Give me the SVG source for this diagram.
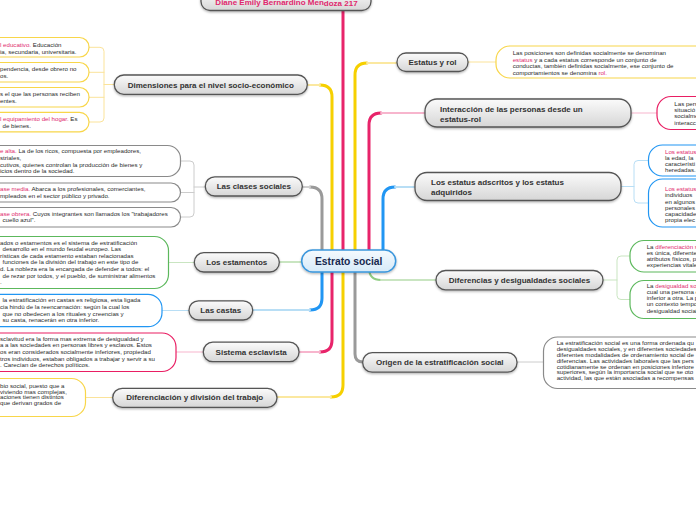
<svg xmlns="http://www.w3.org/2000/svg" width="696" height="520" viewBox="0 0 696 520">
<defs>
<linearGradient id="ng" x1="0" y1="0" x2="0" y2="1"><stop offset="0" stop-color="#fbfbfb"/><stop offset="1" stop-color="#d6d6d6"/></linearGradient>
<linearGradient id="cg" x1="0" y1="0" x2="0" y2="1"><stop offset="0" stop-color="#f5fafe"/><stop offset="1" stop-color="#d6eaf8"/></linearGradient>
<filter id="sh" x="-10%" y="-30%" width="120%" height="170%"><feDropShadow dx="0" dy="1.2" stdDeviation="0.8" flood-color="#000" flood-opacity="0.3"/></filter>
</defs>
<style>
.n rect{fill:url(#ng);stroke:#555;stroke-width:1.3;filter:url(#sh)}
.nt{font-family:"Liberation Sans",Arial,sans-serif;font-weight:bold;font-size:8px;fill:#333;text-anchor:middle}
.st{font-family:"Liberation Sans",Arial,sans-serif;font-size:6.15px;fill:#2b2b2b}
.pk{fill:#e0286e}
.b{fill:#fff;stroke-width:1.2}
.by{stroke:#f8d64a}.bg{stroke:#8a8a8a}.bn{stroke:#5cb85c}.bb{stroke:#2196f3}.bp{stroke:#e91e63}
.c{fill:none;stroke-linecap:round}
.s{stroke-width:3}.l{stroke-width:2}.t{stroke-width:1}
</style>
<rect width="696" height="520" fill="#fff"/>
<g id="connectors">
<path class="c s" stroke="#e8246a" d="M343,261 V10"/>
<path class="c s" stroke="#f6d000" d="M332,261 V97 Q332,85 320,85"/><path class="c l" stroke="#fbe8a0" d="M320,85 H307"/>
<path class="c s" stroke="#9a9a9a" d="M322,261 V199 Q322,187 310,187"/><path class="c l" stroke="#cfcfcf" d="M310,187 H302"/>
<path class="c l" stroke="#c9e5c1" d="M279,262 H302"/>
<path class="c s" stroke="#2196f3" d="M322,261 V298 Q322,310 310,310"/><path class="c l" stroke="#b8def5" d="M310,310 H253"/>
<path class="c s" stroke="#e8246a" d="M332,261 V340 Q332,352 320,352"/><path class="c l" stroke="#f7b5cd" d="M320,352 H299"/>
<path class="c s" stroke="#f6d000" d="M343,261 V385 Q343,397 331,397"/><path class="c l" stroke="#fbe8a0" d="M331,397 H277"/>
<path class="c s" stroke="#f6d000" d="M355,261 V75 Q355,63 367,63"/><path class="c l" stroke="#fbe8a0" d="M367,63 H397"/>
<path class="c s" stroke="#e8246a" d="M369,261 V125 Q369,113 381,113"/><path class="c l" stroke="#f7b5cd" d="M381,113 H425"/>
<path class="c s" stroke="#2196f3" d="M383,261 V199 Q383,187 395,187"/><path class="c l" stroke="#b8def5" d="M395,187 H415"/>
<path class="c l" stroke="#8fcc82" d="M369,261 V268 Q369,280 381,280"/><path class="c l" stroke="#c9e5c1" d="M381,280 H436"/>
<path class="c s" stroke="#9a9a9a" d="M355,261 V354 Q355,362 363,362"/>
<g class="c t">
<path stroke="#fbe39a" d="M89,47.3 H100 Q104,47.3 104,51.3 V118 Q104,122 100,122 H89 M89,72.3 H104 M89,97.3 H104 M104,84.5 H114"/>
<path stroke="#cccccc" d="M181,161 H190 Q194,161 194,165 V213 Q194,217 190,217 H181 M181,192.5 H194 M194,187 H205"/>
<path stroke="#c9e5c1" d="M168.5,262.5 H194"/>
<path stroke="#b8def5" d="M162,310.5 H189"/>
<path stroke="#f7b5cd" d="M176,352 H203"/>
<path stroke="#fbe39a" d="M85.5,397.5 H113"/>
<path stroke="#fbe39a" d="M468,62 H496"/>
<path stroke="#f7b5cd" d="M631,113 H657"/>
<path stroke="#b8def5" d="M621,186.5 H634 M648.5,160.5 H638 Q634,160.5 634,164.5 V199 Q634,203 638,203 H648.5"/>
<path stroke="#c9e5c1" d="M603,280 H617 M630,256 H621 Q617,256 617,260 V295.5 Q617,299.5 621,299.5 H630"/>
<path stroke="#cccccc" d="M517,362 H543.5"/>
</g>
</g>

<g id="top" class="n"><rect x="201" y="-9" width="170" height="19.5" rx="9"/><text class="nt pk" x="286.5" y="4.5">Diane Emily Bernardino Men<tspan dy="1.3">doza 217</tspan></text></g>

<g id="dimensiones" class="n"><rect x="114.3" y="75" width="193" height="19.3" rx="9.5"/><text class="nt" x="210.8" y="87.5">Dimensiones para el nivel socio-económico</text></g>
<g id="dim1"><rect class="b by" x="-20" y="37.5" width="109" height="19.5" rx="9.5"/><text class="st" x="0" y="47"><tspan class="pk">l educativo.</tspan> Educación</text><text class="st" x="0" y="53.7">ia, secundaria, universitaria.</text></g>
<g id="dim2"><rect class="b by" x="-20" y="62.5" width="109" height="19.5" rx="9.5"/><text class="st" x="0" y="71.2">pendencia, desde obrero no</text><text class="st" x="0" y="77.6">os.</text></g>
<g id="dim3"><rect class="b by" x="-20" y="87.5" width="109" height="19.5" rx="9.5"/><text class="st" x="0" y="96">s el que las personas reciben</text><text class="st" x="0" y="102.5">entes.</text></g>
<g id="dim4"><rect class="b by" x="-20" y="112.3" width="109" height="19.5" rx="9.5"/><text class="st" x="0" y="121"><tspan class="pk">l equipamiento del hogar.</tspan> Es</text><text class="st" x="2.5" y="127.7">de bienes.</text></g>

<g id="clases" class="n"><rect x="205.3" y="176.8" width="97" height="19.2" rx="9.5"/><text class="nt" x="253.8" y="189.2">Las clases sociales</text></g>
<g id="clases1"><rect class="b bg" x="-20" y="145.5" width="200.5" height="31" rx="13"/><text class="st" x="0" y="153"><tspan class="pk">e alta.</tspan> La de los ricos, compuesta por empleadores,</text><text class="st" x="0" y="159.5">striales,</text><text class="st" x="0" y="166.5">cutivos, quienes controlan la producción de bienes y</text><text class="st" x="0" y="173">icios dentro de la sociedad.</text></g>
<g id="clases2"><rect class="b bg" x="-20" y="183" width="200.5" height="19" rx="9.5"/><text class="st" x="0" y="191"><tspan class="pk">ase media.</tspan> Abarca a los profesionales, comerciantes,</text><text class="st" x="0" y="197.5">mpleados en el sector público y privado.</text></g>
<g id="clases3"><rect class="b bg" x="-20" y="207.5" width="200.5" height="19.5" rx="9.5"/><text class="st" x="0" y="215.8"><tspan class="pk">ase obrera.</tspan> Cuyos integrantes son llamados los "trabajadores</text><text class="st" x="2.5" y="222.4">cuello azul".</text></g>

<g id="estamentos" class="n"><rect x="194.3" y="252.7" width="85" height="19.3" rx="9.5"/><text class="nt" x="236.8" y="265">Los estamentos</text></g>
<g id="estamentos1"><rect class="b bn" x="-20" y="236.5" width="188.5" height="52" rx="14"/>
<text class="st" x="0" y="244.5">ados o estamentos es el sistema de estratificación</text>
<text class="st" x="2.5" y="251.1">desarrollo en el mundo feudal europeo. Las</text>
<text class="st" x="0" y="257.7">rísticas de cada estamento estaban relacionadas</text>
<text class="st" x="2.5" y="264.3">funciones de la división del trabajo en este tipo de</text>
<text class="st" x="0" y="270.9">d. La nobleza era la encargada de defender a todos: el</text>
<text class="st" x="2.5" y="277.5">de rezar por todos, y el pueblo, de suministrar alimentos</text>
<text class="st" x="0" y="284.1">.</text></g>

<g id="castas" class="n"><rect x="189" y="300.8" width="63.7" height="19.2" rx="9.5"/><text class="nt" x="220.8" y="313">Las castas</text></g>
<g id="castas1"><rect class="b bb" x="-20" y="294.3" width="182" height="32.4" rx="14"/>
<text class="st" x="2.5" y="302.4">la estratificación en castas es religiosa, esta ligada</text>
<text class="st" x="0" y="309">cia hindú de la reencarnación: según la cual los</text>
<text class="st" x="2.5" y="315.6">que no obedecen a los rituales y creencias y</text>
<text class="st" x="2.5" y="322.2">su casta, renacerán en otra inferior.</text></g>

<g id="esclavista" class="n"><rect x="203.3" y="342.2" width="95.7" height="19.5" rx="9.5"/><text class="nt" x="251.2" y="354.5">Sistema esclavista</text></g>
<g id="esclavista1"><rect class="b bp" x="-20" y="333" width="196" height="38.5" rx="14"/>
<text class="st" x="0" y="340.8">sclavitud era la forma mas extrema de desigualdad y</text>
<text class="st" x="0" y="347.4">a a las sociedades en personas libres y esclavos. Estos</text>
<text class="st" x="0" y="354">os eran considerados socialmente inferiores, propiedad</text>
<text class="st" x="0" y="360.6">tros individuos, estaban obligados a trabajar y servir a su</text>
<text class="st" x="0" y="367.2">. Carecían de derechos políticos.</text></g>

<g id="diferenciacion" class="n"><rect x="112.7" y="388.3" width="164.3" height="19" rx="9.5"/><text class="nt" x="194.8" y="400.3">Diferenciación y división del trabajo</text></g>
<g id="diferenciacion1"><rect class="b by" x="-20" y="378.5" width="105.5" height="38" rx="14"/>
<text class="st" x="0" y="387.5">bio social, puesto que a</text>
<text class="st" x="0" y="393.5">viviendo mas complejas,</text>
<text class="st" x="0" y="399.3">aciones tienen distintos</text>
<text class="st" x="0" y="405">que derivan grados de</text></g>

<g id="estatus" class="n"><rect x="397" y="53" width="71" height="18.5" rx="9"/><text class="nt" x="432.5" y="65">Estatus y rol</text></g>
<g id="estatus1"><rect class="b by" x="496" y="46" width="230" height="32" rx="14"/>
<text class="st" x="512.7" y="55">Las posiciones son definidas socialmente se denominan</text>
<text class="st" x="512.7" y="61.5"><tspan class="pk">estatus</tspan> y a cada estatus corresponde un conjunto de</text>
<text class="st" x="512.7" y="68">conductas, también definidas socialmente, ese conjunto de</text>
<text class="st" x="512.7" y="74.5">comportamientos se denomina <tspan class="pk">rol.</tspan></text></g>

<g id="interaccion" class="n"><rect x="425" y="99" width="206" height="28" rx="12"/><text class="nt" x="440" y="111.5" style="text-anchor:start">Interacción de las personas desde un</text><text class="nt" x="440" y="121.5" style="text-anchor:start">estatus-rol</text></g>
<g id="interaccion1"><rect class="b bp" x="657" y="96.5" width="60" height="33" rx="14"/>
<text class="st" x="674.3" y="105.7">Las pers</text>
<text class="st" x="674.3" y="111.9">situació</text>
<text class="st" x="674.3" y="118.3">socialme</text>
<text class="st" x="674.3" y="124.7">interacc</text></g>

<g id="adscritos" class="n"><rect x="415" y="172.5" width="206" height="28" rx="12"/><text class="nt" x="431" y="185" style="text-anchor:start">Los estatus adscritos y los estatus</text><text class="nt" x="431" y="195" style="text-anchor:start">adquiridos</text></g>
<g id="adscritos1"><rect class="b bb" x="648.5" y="145" width="70" height="31" rx="14"/>
<text class="st pk" x="665" y="154.4">Los estatus</text>
<text class="st" x="665" y="160.2">la edad, la</text>
<text class="st" x="665" y="166">característi</text>
<text class="st" x="665" y="171.8">heredadas.</text></g>
<g id="adscritos2"><rect class="b bb" x="648.5" y="179" width="70" height="48" rx="14"/>
<text class="st pk" x="665" y="191">Los estatus</text>
<text class="st" x="665" y="197.3">individuos</text>
<text class="st" x="665" y="203.6">en algunos</text>
<text class="st" x="665" y="209.9">personales</text>
<text class="st" x="665" y="216.1">capacidades</text>
<text class="st" x="665" y="222.3">propia elec</text></g>

<g id="diferencias" class="n"><rect x="436" y="270.5" width="167" height="19.3" rx="9.5"/><text class="nt" x="519.5" y="283">Diferencias y desigualdades sociales</text></g>
<g id="diferencias1"><rect class="b bn" x="630" y="240.5" width="90" height="31.5" rx="14"/>
<text class="st" x="646.7" y="249">La <tspan class="pk">diferenciación s</tspan></text>
<text class="st" x="646.7" y="255">es única, diferente</text>
<text class="st" x="646.7" y="261">atributos físicos, p</text>
<text class="st" x="646.7" y="267.3">experiencias vitale</text></g>
<g id="diferencias2"><rect class="b bn" x="630" y="280.5" width="90" height="38" rx="14"/>
<text class="st" x="646.7" y="288.4">La <tspan class="pk">desigualdad soc</tspan></text>
<text class="st" x="646.7" y="294.4">cual una persona e</text>
<text class="st" x="646.7" y="300.4">inferior a otra. La p</text>
<text class="st" x="646.7" y="306.4">un contexto tempo</text>
<text class="st" x="646.7" y="312.6">desigualdad social.</text></g>

<g id="origen" class="n"><rect x="362.7" y="352.7" width="154.3" height="19.5" rx="9.5"/><text class="nt" x="439.8" y="365.3">Origen de la estratificación social</text></g>
<g id="origen1"><rect class="b bg" x="543.5" y="337" width="180" height="51.5" rx="14"/>
<text class="st" x="556.7" y="345">La estratificación social es una forma ordenada qu</text>
<text class="st" x="556.7" y="351">desigualdades sociales, y en diferentes sociedades</text>
<text class="st" x="556.7" y="356.8">diferentes modalidades de ordenamiento social de</text>
<text class="st" x="556.7" y="362.6">diferencias. Las actividades laborales que las pers</text>
<text class="st" x="556.7" y="368.5">cotidianamente se ordenan en posiciones inferiore</text>
<text class="st" x="556.7" y="374.3">superiores, según la importancia social que se oto</text>
<text class="st" x="556.7" y="380.2">actividad, las que están asociadas a recompensas</text></g>

<g id="center"><rect x="301.7" y="250" width="94" height="22" rx="11" fill="url(#cg)" stroke="#3a96dc" stroke-width="1.5" filter="url(#sh)"/><text x="348.7" y="264.8" style="font-family:'Liberation Sans',Arial,sans-serif;font-weight:bold;font-size:10.3px;fill:#17294f;text-anchor:middle">Estrato social</text></g>
</svg>
